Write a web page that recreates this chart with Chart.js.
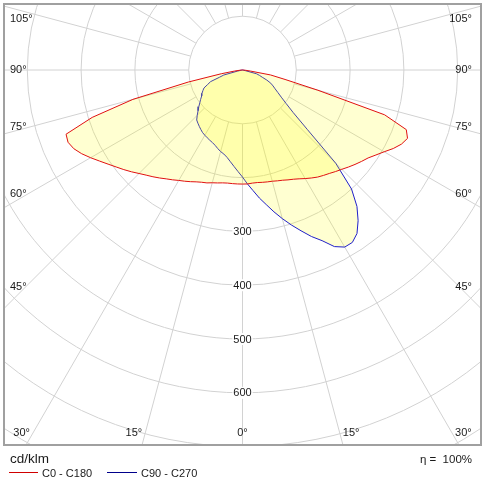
<!DOCTYPE html>
<html>
<head>
<meta charset="utf-8">
<script src="https://cdn.jsdelivr.net/npm/chart.js@4.4.1/dist/chart.umd.min.js"></script>
<style>
body { margin: 0; background: #fff; }
#wrap { position: relative; width: 485px; height: 498px; font-family: Arial, "Liberation Sans", sans-serif; color: #1a1a1a; }
#chart { position: absolute; left: 0; top: 0; }
.txt { position: absolute; white-space: pre; line-height: 1; }
.key { position: absolute; height: 1px; }
</style>
</head>
<body>
<div id="wrap">
  <canvas id="chart" width="485" height="498"></canvas>
  <div class="txt" style="left:10px;top:451.5px;font-size:13.5px">cd/klm</div>
  <div class="txt" style="right:13px;top:454px;font-size:11.5px">η =  100%</div>
  <div class="key" style="left:9px;top:472px;width:29px;background:#d00000"></div>
  <div class="txt" style="left:42px;top:467.5px;font-size:11px">C0 - C180</div>
  <div class="key" style="left:107px;top:472px;width:30px;background:#00008b"></div>
  <div class="txt" style="left:141px;top:467.5px;font-size:11px">C90 - C270</div>
</div>
<script>
// gamma angles (deg from nadir) and intensities in cd/klm
var gammaDeg = [0, 2.5, 5, 7.5, 10, 12.5, 15, 17.5, 20, 22.5, 25, 27.5, 30, 32.5, 35, 37.5, 40, 42.5, 45,
                47.5, 50, 52.5, 55, 57.5, 60, 62.5, 65, 67.5, 70, 72.5, 75, 77.5, 80, 82.5, 85, 87.5, 90];
var c0   = [212, 212, 211, 211, 212, 213, 214, 216, 218, 221, 224, 228, 233, 238, 243, 247, 251, 256, 261,
            267, 273, 279, 285, 294, 304, 316, 326, 332, 324, 277, 145, 81, 53, 15, 6, 2, 0];
var c180 = [212, 212, 212, 212, 213, 215, 217, 220, 222, 225, 229, 233, 237, 242, 247, 253, 259, 265, 272,
            280, 288, 296, 305, 315, 326, 337, 346, 351, 349, 293, 211, 103, 40, 15, 5, 2, 0];
var c90  = [199, 212, 225, 240, 254, 270, 286, 302, 318, 335, 350, 370, 380, 380, 371, 353, 331, 300, 245,
            163, 123, 102, 88, 78, 70, 64, 58, 49, 39, 33, 27, 5, 1, 0, 0, 0, 0];
var c270 = [199, 189, 180, 172, 165, 160, 157, 153, 149, 146, 144, 142, 140, 138, 135, 132, 129, 126, 119,
            112, 106, 100, 95, 90, 87, 83, 79, 70, 63, 45, 36, 10, 3, 0, 0, 0, 0];

var ringValues = [100, 200, 300, 400, 500, 600, 700, 800];
var ringLabels = [300, 400, 500, 600];
var spokeAngles = [0, 15, 30, 45, 60, 75, 90, 105, 120, 135, 150, 165, 180];
var angleLabels = [0, 15, 30, 45, 60, 75, 90, 105];

// left half (C180 / C270) from 90 down to 0, then right half back up to 90
function toCurve(left, right) {
    var pts = [];
    for (var i = gammaDeg.length - 1; i >= 0; i--) {
        var t = gammaDeg[i] * Math.PI / 180;
        pts.push({x: -left[i] * Math.sin(t), y: -left[i] * Math.cos(t)});
    }
    for (var j = 1; j < gammaDeg.length; j++) {
        var u = gammaDeg[j] * Math.PI / 180;
        pts.push({x: right[j] * Math.sin(u), y: -right[j] * Math.cos(u)});
    }
    return pts;
}

var polarGrid = {
    id: 'polarGrid',
    beforeDatasetsDraw: function(chart) {
        var ctx = chart.ctx, ca = chart.chartArea;
        var sx = chart.scales.x, sy = chart.scales.y;
        var cx = sx.getPixelForValue(0), cy = sy.getPixelForValue(0);
        var rad = function(v){ return sx.getPixelForValue(v) - cx; };
        ctx.save();
        ctx.beginPath();
        ctx.rect(ca.left, ca.top, ca.right - ca.left, ca.bottom - ca.top);
        ctx.clip();
        ctx.strokeStyle = '#d2d2d2';
        ctx.lineWidth = 1;
        ringValues.forEach(function(v){
            ctx.beginPath();
            ctx.arc(cx, cy, rad(v), 0, 2 * Math.PI);
            ctx.stroke();
        });
        var rIn = rad(ringValues[0]), rOut = rad(ringValues[ringValues.length - 1]) + 60;
        spokeAngles.forEach(function(a){
            [-1, 1].forEach(function(side){
                var t = a * Math.PI / 180;
                var dx = side * Math.sin(t), dy = Math.cos(t);
                ctx.beginPath();
                ctx.moveTo(cx + dx * rIn, cy + dy * rIn);
                ctx.lineTo(cx + dx * rOut, cy + dy * rOut);
                ctx.stroke();
            });
        });

        ctx.font = '11px Arial, "Liberation Sans", sans-serif';
        ctx.textBaseline = 'middle';
        ctx.textAlign = 'center';
        ringLabels.forEach(function(v){
            var py = sy.getPixelForValue(-v);
            var w = ctx.measureText(String(v)).width;
            ctx.fillStyle = '#fff';
            ctx.fillRect(cx - w / 2 - 1, py - 6, w + 2, 12);
            ctx.fillStyle = '#1a1a1a';
            ctx.fillText(String(v), cx, py + 0.5);
        });

        // angle labels where each spoke meets an inset box
        var L = ca.left + 16, R = ca.right - 16, B = ca.bottom - 12;
        angleLabels.forEach(function(a){
            (a === 0 ? [1] : [-1, 1]).forEach(function(side){
                var t = a * Math.PI / 180;
                var dx = Math.sin(t), dy = Math.cos(t);
                var tx = (side < 0 ? cx - L : R - cx) / dx;
                var tb = dy > 0 ? (B - cy) / dy : Infinity;
                var txt = a + '°';
                var px, py;
                if (a === 0 || tb < tx) {
                    px = cx + side * dx * tb;
                    py = B;
                    if (a === 0) { ctx.textAlign = 'center'; }
                    else if (side < 0) { ctx.textAlign = 'right'; px -= 3; }
                    else { ctx.textAlign = 'left'; px += 3; }
                } else {
                    py = cy + dy * tx - 6 * dy / Math.SQRT1_2;
                    py = Math.max(py, ca.top + 15);
                    if (side < 0) { ctx.textAlign = 'left'; px = ca.left + 6; }
                    else { ctx.textAlign = 'right'; px = ca.right - 9; }
                }
                ctx.fillText(txt, px, py);
            });
        });
        ctx.restore();
    },
    afterDraw: function(chart) {
        var ctx = chart.ctx, ca = chart.chartArea;
        ctx.save();
        ctx.strokeStyle = '#a0a0a0';
        ctx.lineWidth = 2;
        ctx.strokeRect(ca.left, ca.top, ca.right - ca.left, ca.bottom - ca.top);
        ctx.restore();
    }
};

var context = document.getElementById('chart').getContext('2d');
var myChart = new Chart(context, {
    type: 'scatter',
    data: {
        datasets: [{
            label: 'C0 - C180',
            data: toCurve(c180, c0),
            showLine: true,
            fill: 'shape',
            borderColor: '#e01010',
            backgroundColor: 'rgba(255,255,0,0.18)',
            borderWidth: 1,
            pointRadius: 0,
            tension: 0
        }, {
            label: 'C90 - C270',
            data: toCurve(c270, c90),
            showLine: true,
            fill: 'shape',
            borderColor: '#2020c8',
            backgroundColor: 'rgba(255,255,0,0.18)',
            borderWidth: 1,
            pointRadius: 0,
            tension: 0
        }]
    },
    options: {
        responsive: false,
        animation: false,
        devicePixelRatio: 1,
        layout: { padding: { left: 4, right: 4, top: 4, bottom: 53 } },
        scales: {
            x: { type: 'linear', min: -443.3, max: 443.3, display: false },
            y: { type: 'linear', min: -697, max: 122.7, display: false }
        },
        plugins: {
            legend: { display: false },
            tooltip: { enabled: false }
        }
    },
    plugins: [polarGrid]
});
</script>
</body>
</html>
